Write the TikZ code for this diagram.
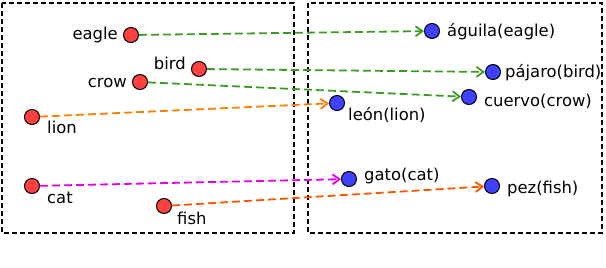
\documentclass[tikz,border=0pt]{standalone}
\usepackage{fontspec}
\setmainfont{DejaVu Sans}
\usetikzlibrary{arrows.meta}

\definecolor{dotred}{RGB}{255,64,64}
\definecolor{dotblue}{RGB}{64,64,255}
\definecolor{lgreen}{RGB}{60,155,35}
\definecolor{lorange}{RGB}{255,125,0}
\definecolor{lred}{RGB}{255,85,0}
\definecolor{lmagenta}{RGB}{230,0,230}

\begin{document}
\begin{tikzpicture}[
    x=1pt, y=-1pt,
    dot/.style={circle, draw=black, line width=1pt, minimum size=15pt, inner sep=0pt},
    src/.style={dot, fill=dotred},
    tgt/.style={dot, fill=dotblue},
    word/.style={inner sep=0pt, font=\fontsize{16.4}{18}\selectfont},
    frame/.style={draw=black, line width=1.1pt, dash pattern=on 5pt off 3pt},
    link/.style={-{Straight Barb[length=7pt,width=10pt]}, line width=1.8pt, dash pattern=on 8pt off 4pt}
]
\useasboundingbox (0,0) rectangle (606,268);

% Frames
\draw[frame] (2,3) rectangle (294,233);
\draw[frame] (308,3) rectangle (602,233);

% English words
\node[src] (eagle) at (131,35) {};
\node[src] (bird) at (199,69) {};
\node[src] (crow) at (140,82) {};
\node[src] (lion) at (32,117) {};
\node[src] (cat) at (32,186) {};
\node[src] (fish) at (164,206) {};

\node[word, anchor=base east] (eaglel) at (118,39) {eagle};
\node[word, anchor=base east] (birdl) at (186,69) {bird};
\node[word, anchor=base east] (crowl) at (127,87) {crow};
\node[word, anchor=base west] (lionl) at (47,133) {lion};
\node[word, anchor=base west] (catl) at (47,203) {cat};
\node[word, anchor=base west] (fishl) at (177,224) {fish};

% Spanish words
\node[tgt] (aguila) at (432,31) {};
\node[tgt] (pajaro) at (493,72) {};
\node[tgt] (cuervo) at (469,97) {};
\node[tgt] (leon) at (337,103) {};
\node[tgt] (gato) at (349,179) {};
\node[tgt] (pez) at (492,186) {};

\node[word, anchor=base west] (aguilal) at (447,36) {águila(eagle)};
\node[word, anchor=base west] (pajarol) at (505,77) {pájaro(bird)};
\node[word, anchor=base west] (cuervol) at (484,106) {cuervo(crow)};
\node[word, anchor=base west] (leonl) at (348,120) {león(lion)};
\node[word, anchor=base west] (gatol) at (364,180) {gato(cat)};
\node[word, anchor=base west] (pezl) at (507,193) {pez(fish)};

% Arrows
\draw[link, lgreen] (eagle) -- (aguila);
\draw[link, lgreen] (bird) -- (pajaro);
\draw[link, lgreen] (crow) -- (cuervo);
\draw[link, lorange] (lion) -- (leon);
\draw[link, lmagenta] (cat) -- (gato);
\draw[link, lred] (fish) -- (pez);

\end{tikzpicture}
\end{document}
